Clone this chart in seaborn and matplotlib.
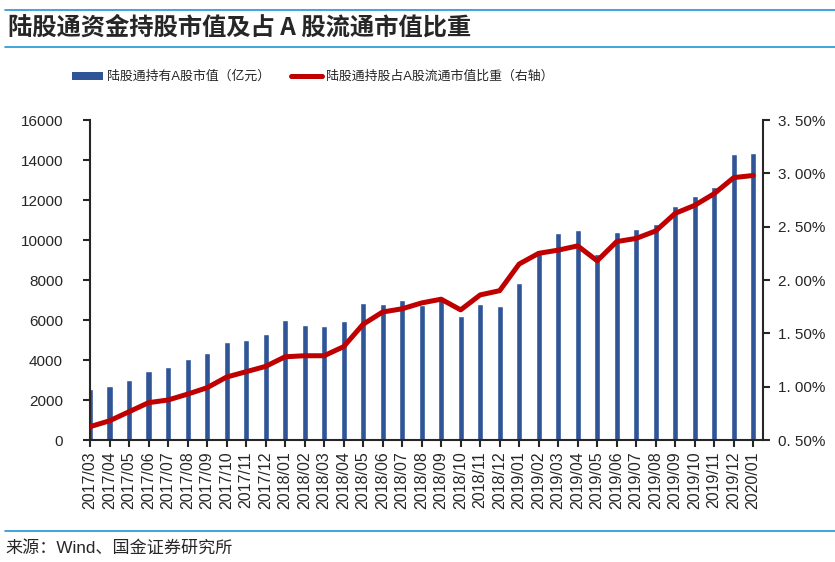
import numpy as np
import matplotlib
matplotlib.use("Agg")
import matplotlib.pyplot as plt
import seaborn as sns
from matplotlib.lines import Line2D
from matplotlib.patches import Patch
from matplotlib.ticker import FuncFormatter

# months shown on the x axis
months = ["2017/03", "2017/04", "2017/05", "2017/06", "2017/07", "2017/08", "2017/09",
          "2017/10", "2017/11", "2017/12", "2018/01", "2018/02", "2018/03", "2018/04",
          "2018/05", "2018/06", "2018/07", "2018/08", "2018/09", "2018/10", "2018/11",
          "2018/12", "2019/01", "2019/02", "2019/03", "2019/04", "2019/05", "2019/06",
          "2019/07", "2019/08", "2019/09", "2019/10", "2019/11", "2019/12", "2020/01"]

# 陆股通持有A股市值 (亿元)
holding_value = [2550, 2700, 3000, 3450, 3650, 4050, 4350, 4900, 5000, 5300,
                 6000, 5750, 5700, 5950, 6850, 6800, 7000, 6750, 7150, 6200,
                 6800, 6700, 7850, 9500, 10350, 10500, 9300, 10400, 10550, 10800,
                 11700, 12200, 12650, 14300, 14350]

# 占A股流通市值比重 (%)
holding_ratio = [0.625, 0.68, 0.765, 0.85, 0.875, 0.93, 0.99, 1.09, 1.14, 1.19,
                 1.28, 1.29, 1.29, 1.375, 1.585, 1.70, 1.73, 1.785, 1.82, 1.72,
                 1.86, 1.90, 2.15, 2.25, 2.28, 2.32, 2.18, 2.36, 2.39, 2.46,
                 2.625, 2.70, 2.81, 2.96, 2.98]

left_ticks = [0, 2000, 4000, 6000, 8000, 10000, 12000, 14000, 16000]
right_ticks = [0.5, 1.0, 1.5, 2.0, 2.5, 3.0, 3.5]

bar_color = "#2F5597"
line_color = "#C00000"
rule_color = "#1F96D6"

sns.set_style("ticks")
plt.rcParams["font.family"] = ["Liberation Sans", "Noto Sans CJK SC", "DejaVu Sans"]

fig = plt.figure(figsize=(8.35, 5.62), dpi=100)
ax = fig.add_axes([90 / 835, 1 - 440 / 562, (763 - 90) / 835, 320 / 562])

xpos = np.arange(len(months))
sns.barplot(x=xpos, y=holding_value, ax=ax, color=bar_color, width=0.31,
            saturation=1)

ax2 = ax.twinx()
sns.lineplot(x=xpos, y=holding_ratio, ax=ax2, color=line_color, linewidth=3.6,
             solid_capstyle="round")

ax.set_xlim(0, len(months) - 0.5)
ax.set_ylim(0, 16000)
ax2.set_ylim(0.5, 3.5)
ax.set_yticks(left_ticks)
ax2.set_yticks(right_ticks)
ax2.yaxis.set_major_formatter(FuncFormatter(lambda v, p: f"{v:.2f}%".replace(".", ". ")))
ax.set_xticks(xpos)
ax.set_xticklabels(months, rotation=90, fontsize=11.5)
ax.tick_params(axis="x", length=5, width=1.5, pad=3)
ax2.tick_params(axis="y", labelsize=11, length=5, width=1.5, pad=5.5)
for a in (ax, ax2):
    a.set_xlabel("")
    a.set_ylabel("")
    a.spines["top"].set_visible(False)
    for s in ("left", "right", "bottom"):
        a.spines[s].set_linewidth(1.5)
ax.spines["right"].set_visible(False)
ax2.spines["left"].set_visible(False)
ax2.spines["bottom"].set_visible(False)
ax.tick_params(axis="y", labelsize=11, length=5, width=1.5, pad=14.5)

handles = [Patch(facecolor=bar_color, edgecolor="none"),
           Line2D([], [], color=line_color, linewidth=3.6, solid_capstyle="round")]
labels = ["陆股通持有A股市值（亿元）", "陆股通持股占A股流通市值比重（右轴）"]
fig.legend(handles, labels, loc="center left", bbox_to_anchor=(60 / 835, 1 - 77 / 562),
           ncol=2, frameon=False, fontsize=9.3, handlelength=2.4, handleheight=0.6,
           handletextpad=0.35, columnspacing=1.6)

fig.text(8 / 835, 1 - 28 / 562, "陆股通资金持股市值及占 A 股流通市值比重",
         fontsize=17.5, fontweight="bold", va="center", ha="left",
         family=["Noto Sans CJK SC", "DejaVu Sans"])
fig.text(5 / 835, 1 - 548 / 562, "来源：Wind、国金证券研究所", fontsize=12.3,
         va="center", ha="left")

for y in (9.5, 47, 531):
    fig.add_artist(Line2D([5 / 835, 1], [1 - y / 562, 1 - y / 562],
                          color=rule_color, linewidth=1.2, transform=fig.transFigure))

fig.savefig("out.png", dpi=100, facecolor="white")
